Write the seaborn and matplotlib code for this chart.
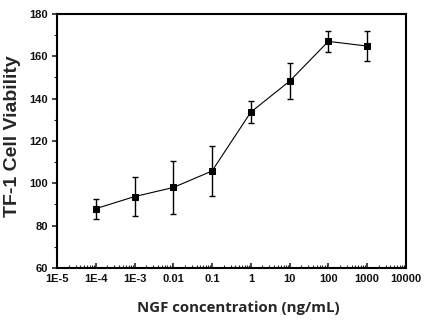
import numpy as np
import pandas as pd
import matplotlib
matplotlib.use("Agg")
import matplotlib.pyplot as plt
import seaborn as sns
from matplotlib.ticker import LogLocator, FixedLocator, MultipleLocator

conc = [1e-4, 1e-3, 0.01, 0.1, 1, 10, 100, 1000]
viability = [88.0, 93.7, 98.0, 105.8, 133.6, 148.2, 167.0, 164.8]
err = [4.7, 9.2, 12.4, 11.8, 5.1, 8.5, 5.0, 7.0]
xtick_vals = [1e-5, 1e-4, 1e-3, 0.01, 0.1, 1, 10, 100, 1000, 10000]
xtick_labels = ["1E-5", "1E-4", "1E-3", "0.01", "0.1", "1", "10", "100", "1000", "10000"]

sns.set_style("ticks")
plt.rcParams['font.family'] = ['Liberation Sans', 'DejaVu Sans']

df = pd.DataFrame({"conc": conc, "viability": viability, "err": err})

fig = plt.figure(figsize=(4.29, 3.30), dpi=100)
ax = fig.add_axes([0.133, 0.188, 0.813, 0.770])

ax.errorbar(df["conc"], df["viability"], yerr=df["err"], fmt="none",
            ecolor="black", elinewidth=1.0, capsize=2.2, capthick=1.0, zorder=2)
sns.lineplot(data=df, x="conc", y="viability", ax=ax, color="black",
             linewidth=0.8, marker="s", markersize=5, markeredgecolor="black",
             markerfacecolor="black", zorder=3)

ax.set_xscale("log")
ax.set_xlim(1e-5, 1e4)
ax.set_ylim(60, 180)
ax.xaxis.set_major_locator(FixedLocator(xtick_vals))
ax.set_xticklabels(xtick_labels)
ax.xaxis.set_minor_locator(LogLocator(base=10, subs=np.arange(2, 10), numticks=20))
ax.yaxis.set_major_locator(MultipleLocator(20))
ax.yaxis.set_minor_locator(MultipleLocator(10))

for s in ax.spines.values():
    s.set_visible(True)
    s.set_linewidth(1.5)
    s.set_color("black")

ax.tick_params(axis="x", which="major", direction="in", length=3.5, width=1.2, pad=4.5)
ax.tick_params(axis="x", which="minor", direction="in", length=2, width=0.8)
ax.tick_params(axis="y", which="major", direction="out", length=3.6, width=1.2, pad=3)
ax.tick_params(axis="y", which="minor", direction="out", length=2, width=0.8)
for lab in ax.get_xticklabels() + ax.get_yticklabels():
    lab.set_fontsize(8)
    lab.set_fontweight("bold")
    lab.set_color("#111111")

ax.set_xlabel("NGF concentration (ng/mL)", fontsize=10.8, fontweight="bold",
              family=["Open Sans", "DejaVu Sans"])
ax.xaxis.set_label_coords(0.519, -0.13)
ax.xaxis.label.set_verticalalignment("top")
ax.set_ylabel("TF-1 Cell Viability", fontsize=14, fontweight="bold")
ax.yaxis.set_label_coords(-0.103, 0.52)

fig.savefig("out.png", dpi=100)
